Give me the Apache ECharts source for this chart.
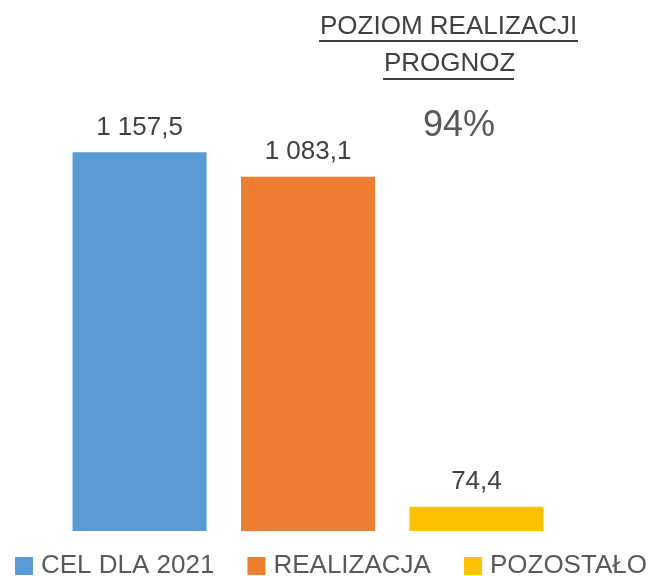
<!DOCTYPE html>
<html>
<head>
<meta charset="utf-8">
<script src="https://cdn.jsdelivr.net/npm/echarts@6/dist/echarts.min.js"></script>
<style>
  html, body { margin: 0; padding: 0; background: #fff; }
  #chart { width: 653px; height: 576px; }
</style>
</head>
<body>
<div id="chart"></div>
<script>
const categories = ['2021']
const seriesNames = ['CEL DLA 2021', 'REALIZACJA', 'POZOSTAŁO']
const seriesValues = [[1157.5], [1083.1], [74.4]]
const colors = ['#5B9BD5', '#ED7D31', '#FFC000']
const titleLines = ['POZIOM REALIZACJI', 'PROGNOZ']
const percentText = '94%'

const font = '"Liberation Sans", Arial, sans-serif'

// 1157.5 -> "1 157,5"
function fmt (v) {
  const parts = v.toFixed(1).split('.')
  const int = parts[0].replace(/\B(?=(\d{3})+(?!\d))/g, ' ')
  return int + ',' + parts[1]
}

const myChart = echarts.init(document.getElementById('chart'))
myChart.setOption({
  animation: false,
  color: colors,
  grid: { left: 0, right: 37, top: 73, bottom: 45 },
  legend: {
    top: 548,
    left: 10,
    itemWidth: 18,
    itemHeight: 18,
    itemGap: 33,
    icon: 'rect',
    data: seriesNames,
    textStyle: { fontFamily: font, fontSize: 26, color: '#595959', padding: [0, 0, 0, 3] }
  },
  xAxis: {
    type: 'category',
    data: categories,
    axisLine: { show: false },
    axisTick: { show: false },
    axisLabel: { show: false }
  },
  yAxis: {
    type: 'value',
    min: 0,
    max: 1400,
    show: false,
    splitLine: { show: false }
  },
  graphic: [
    {
      type: 'text',
      left: 320,
      top: 14,
      style: { text: titleLines[0], font: '26px ' + font, fill: '#404040' }
    },
    {
      type: 'line',
      shape: { x1: 319, y1: 41, x2: 578, y2: 41 },
      style: { stroke: '#404040', lineWidth: 2 }
    },
    {
      type: 'text',
      left: 384,
      top: 51,
      style: { text: titleLines[1], font: '26px ' + font, fill: '#404040' }
    },
    {
      type: 'line',
      shape: { x1: 383, y1: 79, x2: 514, y2: 79 },
      style: { stroke: '#404040', lineWidth: 2 }
    },
    {
      type: 'text',
      left: 423,
      top: 108,
      style: { text: percentText, font: '36px ' + font, fill: '#595959' }
    }
  ],
  series: seriesNames.map((name, i) => ({
    name: name,
    type: 'bar',
    barWidth: 134,
    barGap: '25.7%',
    data: seriesValues[i],
    label: {
      show: true,
      position: 'top',
      distance: 12,
      fontFamily: font,
      fontSize: 26,
      color: '#404040',
      formatter: p => fmt(p.value)
    }
  }))
})
</script>
</body>
</html>
